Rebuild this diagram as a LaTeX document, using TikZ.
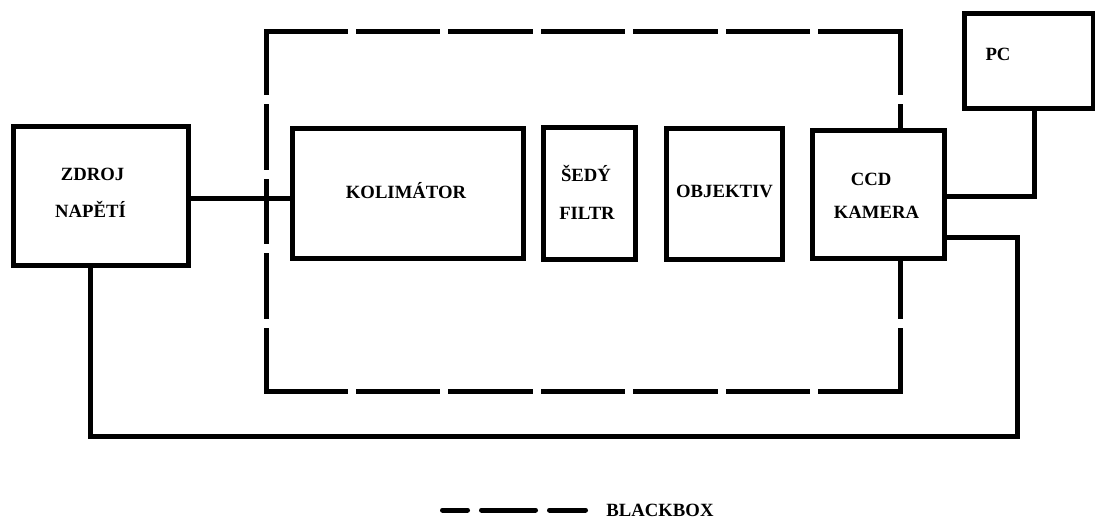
\documentclass[tikz,border=0pt]{standalone}
\usepackage{fontspec}
\setmainfont{Liberation Serif}
\begin{document}
\begin{tikzpicture}[x=1pt,y=-1pt,
  line width=5pt, line join=miter,
  box/.style={draw, fill=white, line width=5pt, inner sep=0pt},
  lab/.style={anchor=base, inner sep=0pt, font=\fontsize{18.7}{22}\selectfont\bfseries},
  dashh/.style={line width=5pt, line cap=rect, dash pattern=on 79.43pt off 13pt},
  dashv/.style={line width=5pt, line cap=rect, dash pattern=on 60.6pt off 14pt}]
\useasboundingbox (0,0) rectangle (1095,519);
% blackbox outline
\coordinate (bbtl) at (266,32);
\coordinate (bbtr) at (900,32);
\coordinate (bbbr) at (900,391);
\coordinate (bbbl) at (266,391);
\draw[dashh] (bbtl) -- (bbtr);
\draw[dashh] (bbbl) -- (bbbr);
\draw[dashv] (bbtl) -- (bbbl);
\draw[dashv] (bbtr) -- (bbbr);
% boxes
\node[box, minimum width=175pt, minimum height=139pt] (z) at (100.5,195.5) {};
\node[box, minimum width=231pt, minimum height=130pt] (k) at (407.5,193) {};
\node[box, minimum width=92pt, minimum height=132pt] (f) at (589,193) {};
\node[box, minimum width=116pt, minimum height=131pt] (o) at (724,193.5) {};
\node[box, minimum width=132pt, minimum height=128pt] (c) at (878,194) {};
\node[box, minimum width=129pt, minimum height=94pt] (pc) at (1028.5,61) {};
% labels
\node[lab] (tz1) at (92.5,180) {ZDROJ};
\node[lab] (tz2) at (90.5,217) {NAPĚTÍ};
\node[lab] (tk) at (406,198.5) {KOLIMÁTOR};
\node[lab] (tf1) at (586,181) {ŠEDÝ};
\node[lab] (tf2) at (587,219) {FILTR};
\node[lab] (to) at (724.5,197) {OBJEKTIV};
\node[lab] (tc1) at (871,185) {CCD};
\node[lab] (tc2) at (876.5,218) {KAMERA};
\node[lab] (tp) at (998,61) {PC};
\node[lab] (tb) at (660,516) {BLACKBOX};
% connectors
\coordinate (h1) at (0,198);
\coordinate (h2) at (0,196);
\coordinate (h3) at (0,237);
\coordinate (v1) at (1034,0);
\coordinate (v2) at (90,0);
\coordinate (corner) at (1017,436);
\draw (z.east |- h1) -- (k.west |- h1);
\draw (pc.south -| v1) |- (c.east |- h2);
\draw (c.east |- h3) -| (corner) -| (z.south -| v2);
% legend
\coordinate (leg1) at (442.5,510);
\coordinate (leg2) at (585.5,510);
\draw[line width=5pt, line cap=round, dash pattern=on 25pt off 14pt on 54pt off 14pt on 36pt off 50pt] (leg1) -- (leg2);
\end{tikzpicture}
\end{document}
